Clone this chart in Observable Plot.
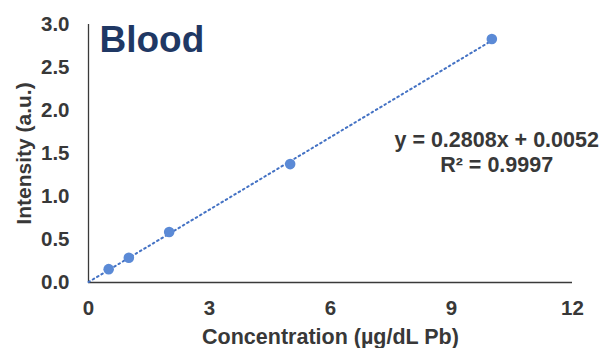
<!DOCTYPE html>
<html>
<head>
<meta charset="utf-8">
<script src="https://cdn.jsdelivr.net/npm/d3@7"></script>
<script src="https://cdn.jsdelivr.net/npm/@observablehq/plot@0.6"></script>
<style>
  html, body { margin: 0; padding: 0; background: #fff; }
  svg { font-family: "Liberation Sans", Arial, sans-serif; }
</style>
</head>
<body>
<div id="chart"></div>
<script>
const concentration = [0.5, 1, 2, 5, 10];
const intensity = [0.155, 0.288, 0.587, 1.377, 2.832];
const slope = 0.2808;
const intercept = 0.0052;
const xTicks = [0, 3, 6, 9, 12];
const yTicks = [0, 0.5, 1.0, 1.5, 2.0, 2.5, 3.0];
const title = "Blood";
const equation = "y = 0.2808x + 0.0052\nR² = 0.9997";
const xLabel = "Concentration (µg/dL Pb)";
const yLabel = "Intensity (a.u.)";

const points = concentration.map((c, i) => ({x: c, y: intensity[i]}));
const fitX = [0, d3.max(concentration)];
const fit = fitX.map(x => ({x, y: slope * x + intercept}));

const textColor = "#383838";

const chart = Plot.plot({
  width: 599,
  height: 348,
  marginLeft: 88,
  marginRight: 27,
  marginTop: 24,
  marginBottom: 66,
  style: {fontFamily: "'Liberation Sans', Arial, sans-serif", background: "#fff"},
  x: {domain: [0, 12], ticks: xTicks, label: null},
  y: {domain: [0, 3], ticks: yTicks, label: null},
  marks: [
    Plot.axisX({ticks: xTicks, tickSize: 0, tickPadding: 18, fontSize: 20.5, fontWeight: "bold", fill: textColor, label: null}),
    Plot.axisY({ticks: yTicks, tickSize: 0, tickPadding: 19, fontSize: 20.5, fontWeight: "bold", fill: textColor, tickFormat: d3.format(".1f"), label: null}),
    Plot.ruleY([0], {stroke: "#3a3a3a", strokeWidth: 1.3}),
    Plot.ruleX([0], {stroke: "#3a3a3a", strokeWidth: 1.3}),
    Plot.line(fit, {x: "x", y: "y", stroke: "#4472c4", strokeWidth: 2, strokeDasharray: "1.6 3.4"}),
    Plot.dot(points, {x: "x", y: "y", r: 5.3, fill: "#5b8ad6", stroke: "none"}),
    Plot.text([title], {frameAnchor: "top-left", dx: 11, dy: 27, lineAnchor: "bottom", textAnchor: "start", fontSize: 37, fontWeight: "bold", fill: "#1f3864"}),
    Plot.text([equation], {x: () => 10.12, y: () => 1.29, lineAnchor: "bottom", lineHeight: 1.15, textAnchor: "middle", fontSize: 21.5, fontWeight: "bold", fill: textColor}),
    Plot.text([xLabel], {frameAnchor: "bottom", dy: 61, lineAnchor: "bottom", textAnchor: "middle", fontSize: 21.5, fontWeight: "bold", fill: textColor}),
    Plot.text([yLabel], {frameAnchor: "left", dx: -64, rotate: -90, lineAnchor: "middle", textAnchor: "middle", fontSize: 21, fontWeight: "bold", fill: textColor})
  ]
});
document.getElementById("chart").appendChild(chart);
</script>
</body>
</html>
